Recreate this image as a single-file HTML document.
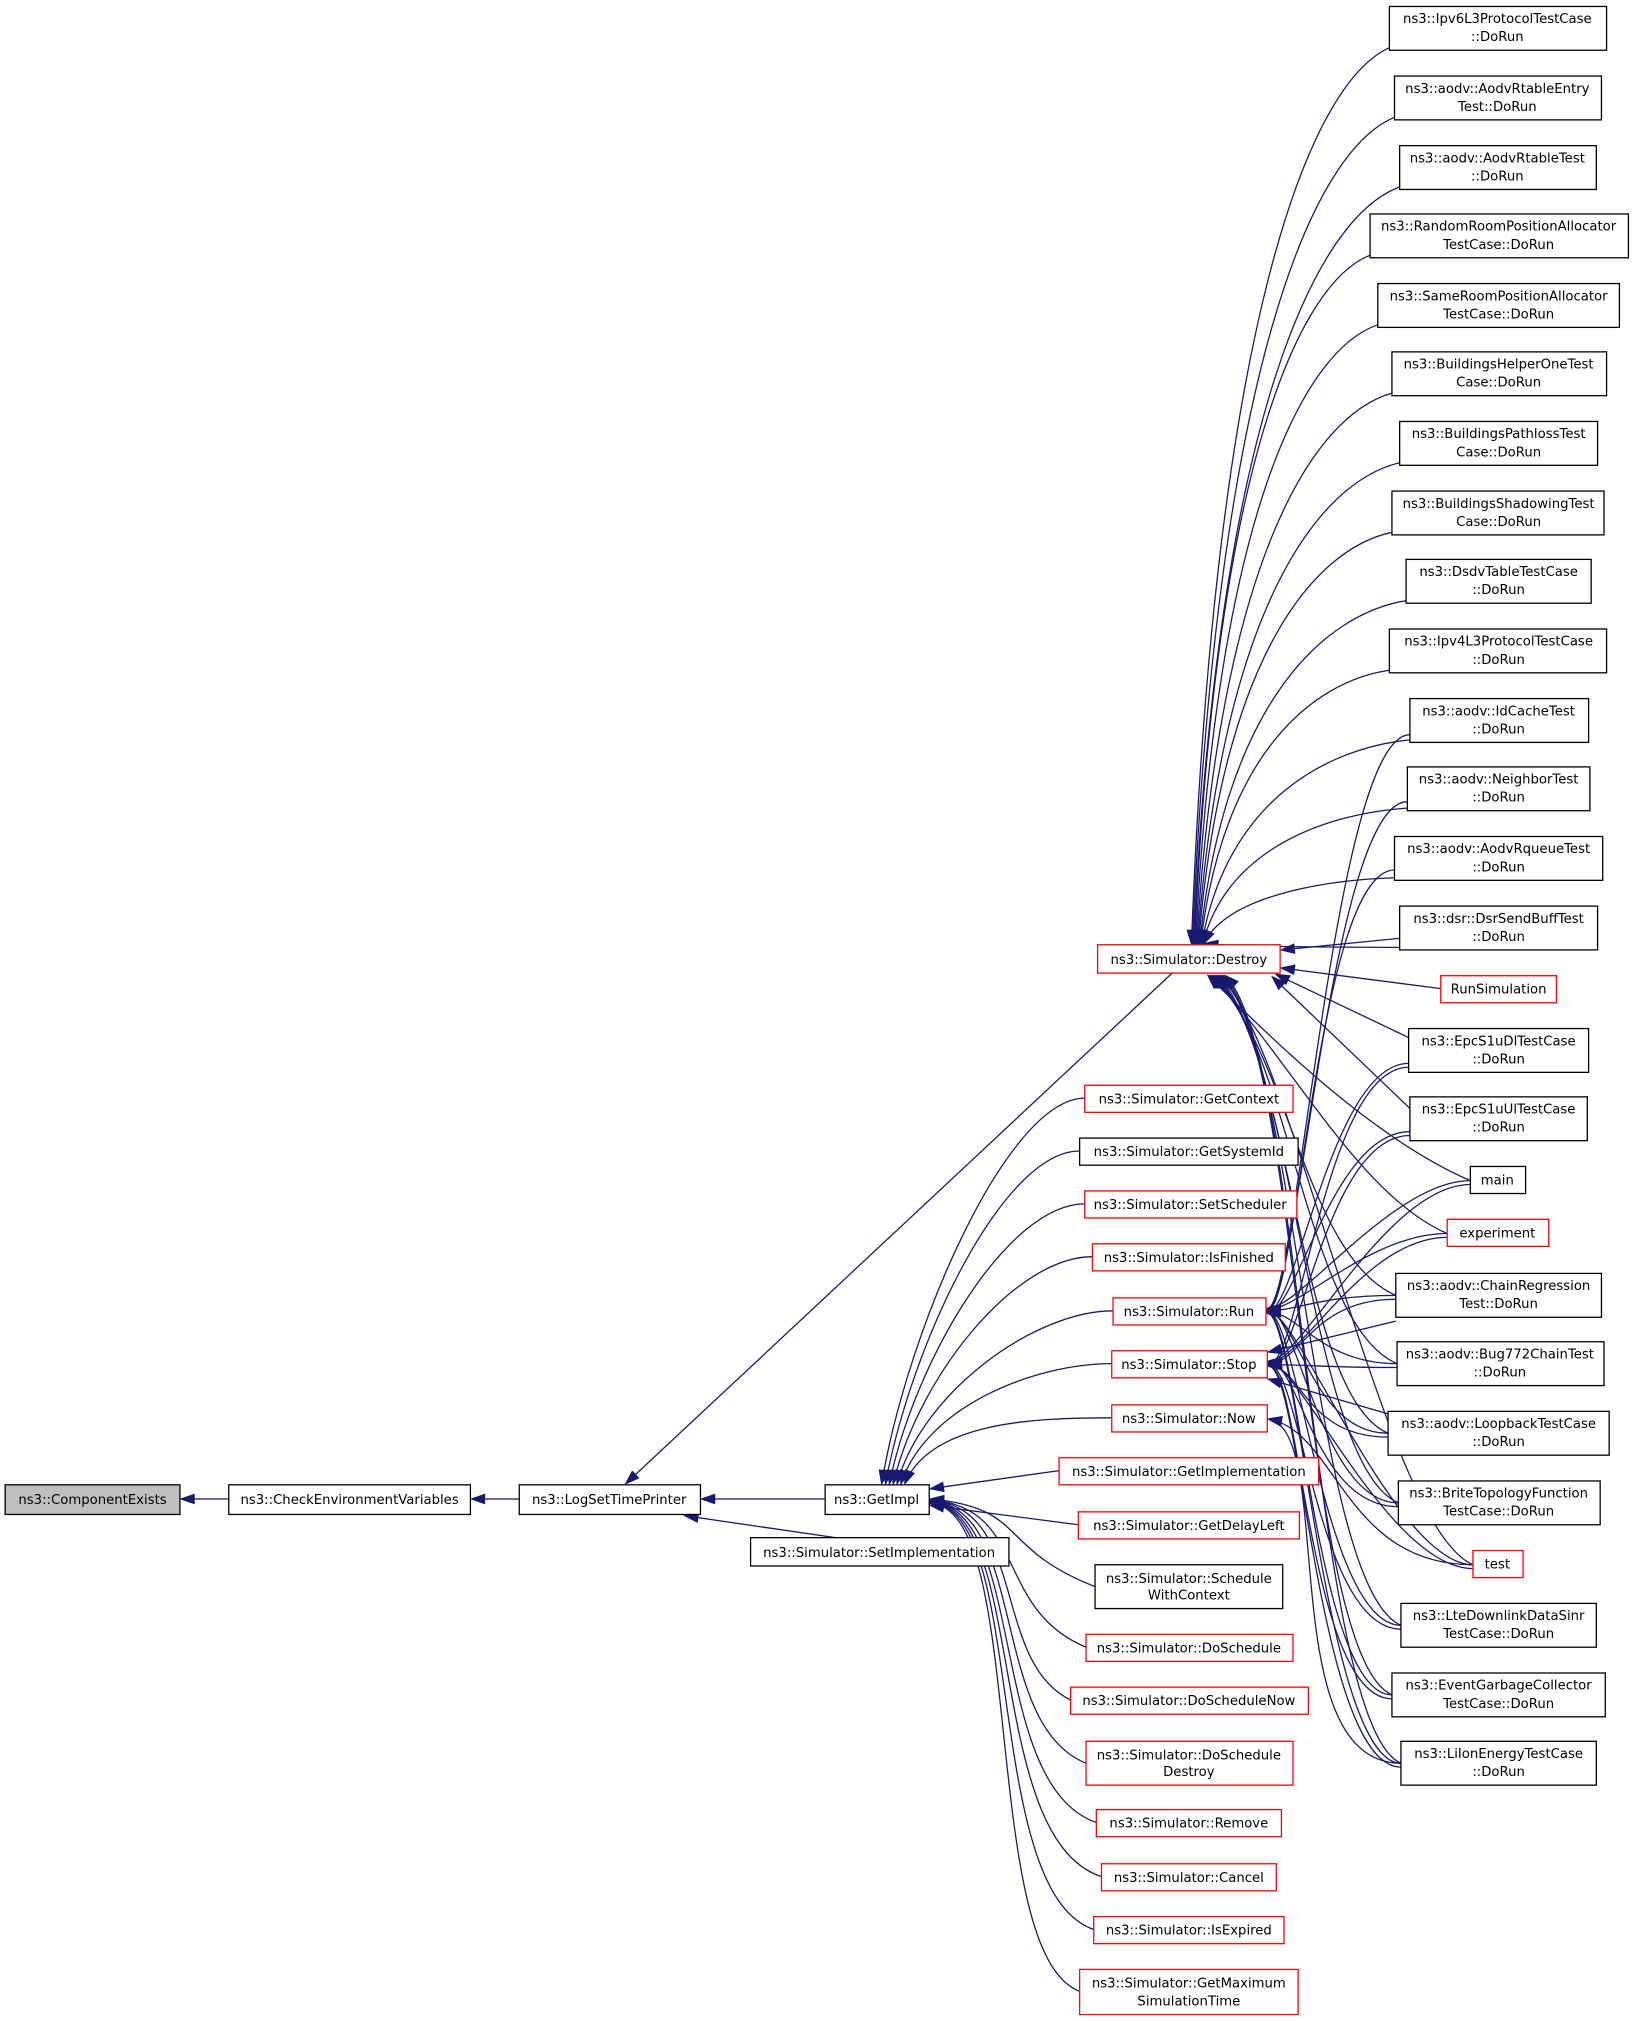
<!DOCTYPE html>
<html><head><meta charset="utf-8"><style>
html,body{margin:0;padding:0;background:#fff;}
svg{display:block;}
text{font-family:"DejaVu Sans","Liberation Sans",sans-serif;font-size:10.3px;fill:#000;text-anchor:middle;}
.b{fill:#fff;stroke:#000;stroke-width:1;}
.r{fill:#fff;stroke:#ff0000;stroke-width:1;}
.g{fill:#bfbfbf;stroke:#000;stroke-width:1;}
path.e{fill:none;stroke:#191970;stroke-width:1;}
polygon.h{fill:#191970;stroke:#191970;stroke-width:1;}
</style></head><body>
<svg id="s" width="1640" height="2021" viewBox="0 0 1276 1568" preserveAspectRatio="none" xmlns="http://www.w3.org/2000/svg">
<g id="edges"></g>
<!-- left chain -->
<rect class="g" x="4" y="1152" width="136" height="23"/><text x="72" y="1167">ns3::ComponentExists</text>
<rect class="b" x="178" y="1152" width="188" height="23"/><text x="272" y="1167">ns3::CheckEnvironmentVariables</text>
<rect class="b" x="404" y="1152" width="141" height="23"/><text x="474" y="1167">ns3::LogSetTimePrinter</text>
<rect class="b" x="642" y="1152" width="81" height="23"/><text x="682" y="1167">ns3::GetImpl</text>
<rect class="b" x="584" y="1193" width="201" height="22"/><text x="684" y="1208">ns3::Simulator::SetImplementation</text>
<!-- middle -->
<rect class="r" x="854" y="733" width="142" height="22"/><text x="925" y="748">ns3::Simulator::Destroy</text>
<rect class="r" x="844" y="842" width="162" height="21"/><text x="925" y="856">ns3::Simulator::GetContext</text>
<rect class="b" x="840" y="883" width="170" height="21"/><text x="925" y="897">ns3::Simulator::GetSystemId</text>
<rect class="r" x="844" y="924" width="165" height="21"/><text x="926" y="938">ns3::Simulator::SetScheduler</text>
<rect class="r" x="850" y="965" width="150" height="21"/><text x="925" y="979">ns3::Simulator::IsFinished</text>
<rect class="r" x="866" y="1007" width="119" height="21"/><text x="925" y="1021">ns3::Simulator::Run</text>
<rect class="r" x="865" y="1048" width="121" height="21"/><text x="925" y="1062">ns3::Simulator::Stop</text>
<rect class="r" x="865" y="1090" width="121" height="21"/><text x="925" y="1104">ns3::Simulator::Now</text>
<rect class="r" x="824" y="1131" width="202" height="21"/><text x="925" y="1145">ns3::Simulator::GetImplementation</text>
<rect class="r" x="839" y="1173" width="172" height="21"/><text x="925" y="1187">ns3::Simulator::GetDelayLeft</text>
<rect class="b" x="852" y="1214" width="146" height="34"/><text x="925" y="1228">ns3::Simulator::Schedule</text><text x="925" y="1241">WithContext</text>
<rect class="r" x="845" y="1268" width="161" height="21"/><text x="925" y="1282">ns3::Simulator::DoSchedule</text>
<rect class="r" x="833" y="1309" width="185" height="21"/><text x="925" y="1323">ns3::Simulator::DoScheduleNow</text>
<rect class="r" x="845" y="1351" width="161" height="34"/><text x="925" y="1365">ns3::Simulator::DoSchedule</text><text x="925" y="1378">Destroy</text>
<rect class="r" x="853" y="1404" width="144" height="21"/><text x="925" y="1418">ns3::Simulator::Remove</text>
<rect class="r" x="857" y="1446" width="136" height="21"/><text x="925" y="1460">ns3::Simulator::Cancel</text>
<rect class="r" x="851" y="1487" width="148" height="21"/><text x="925" y="1501">ns3::Simulator::IsExpired</text>
<rect class="r" x="840" y="1528" width="170" height="35"/><text x="925" y="1542">ns3::Simulator::GetMaximum</text><text x="925" y="1556">SimulationTime</text>
<!-- right -->
<g id="right">
<rect class="b" x="1081" y="5" width="169" height="34"/><text x="1165" y="18">ns3::Ipv6L3ProtocolTestCase</text><text x="1165" y="32">::DoRun</text>
<rect class="b" x="1085" y="59" width="161" height="34"/><text x="1165" y="72">ns3::aodv::AodvRtableEntry</text><text x="1165" y="86">Test::DoRun</text>
<rect class="b" x="1089" y="113" width="153" height="34"/><text x="1165" y="126">ns3::aodv::AodvRtableTest</text><text x="1165" y="140">::DoRun</text>
<rect class="b" x="1066" y="166" width="201" height="34"/><text x="1166" y="179">ns3::RandomRoomPositionAllocator</text><text x="1166" y="193">TestCase::DoRun</text>
<rect class="b" x="1072" y="220" width="188" height="34"/><text x="1166" y="233">ns3::SameRoomPositionAllocator</text><text x="1166" y="247">TestCase::DoRun</text>
<rect class="b" x="1083" y="273" width="167" height="34"/><text x="1166" y="286">ns3::BuildingsHelperOneTest</text><text x="1166" y="300">Case::DoRun</text>
<rect class="b" x="1089" y="327" width="154" height="34"/><text x="1166" y="340">ns3::BuildingsPathlossTest</text><text x="1166" y="354">Case::DoRun</text>
<rect class="b" x="1083" y="381" width="165" height="34"/><text x="1166" y="394">ns3::BuildingsShadowingTest</text><text x="1166" y="408">Case::DoRun</text>
<rect class="b" x="1094" y="434" width="144" height="34"/><text x="1166" y="447">ns3::DsdvTableTestCase</text><text x="1166" y="461">::DoRun</text>
<rect class="b" x="1081" y="488" width="169" height="34"/><text x="1166" y="501">ns3::Ipv4L3ProtocolTestCase</text><text x="1166" y="515">::DoRun</text>
<rect class="b" x="1097" y="542" width="139" height="34"/><text x="1166" y="555">ns3::aodv::IdCacheTest</text><text x="1166" y="569">::DoRun</text>
<rect class="b" x="1095" y="595" width="142" height="34"/><text x="1166" y="608">ns3::aodv::NeighborTest</text><text x="1166" y="622">::DoRun</text>
<rect class="b" x="1085" y="649" width="162" height="34"/><text x="1166" y="662">ns3::aodv::AodvRqueueTest</text><text x="1166" y="676">::DoRun</text>
<rect class="b" x="1089" y="703" width="154" height="34"/><text x="1166" y="716">ns3::dsr::DsrSendBuffTest</text><text x="1166" y="730">::DoRun</text>
<rect class="r" x="1121" y="757" width="90" height="21"/><text x="1166" y="771">RunSimulation</text>
<rect class="b" x="1096" y="798" width="140" height="34"/><text x="1166" y="811">ns3::EpcS1uDlTestCase</text><text x="1166" y="825">::DoRun</text>
<rect class="b" x="1097" y="851" width="138" height="34"/><text x="1166" y="864">ns3::EpcS1uUlTestCase</text><text x="1166" y="878">::DoRun</text>
<rect class="b" x="1144" y="905" width="43" height="21"/><text x="1165" y="919">main</text>
<rect class="r" x="1126" y="946" width="79" height="21"/><text x="1165" y="960">experiment</text>
<rect class="b" x="1086" y="988" width="160" height="34"/><text x="1166" y="1001">ns3::aodv::ChainRegression</text><text x="1166" y="1015">Test::DoRun</text>
<rect class="b" x="1087" y="1041" width="161" height="34"/><text x="1167" y="1054">ns3::aodv::Bug772ChainTest</text><text x="1167" y="1068">::DoRun</text>
<rect class="b" x="1080" y="1095" width="172" height="34"/><text x="1166" y="1108">ns3::aodv::LoopbackTestCase</text><text x="1166" y="1122">::DoRun</text>
<rect class="b" x="1088" y="1149" width="157" height="34"/><text x="1166" y="1162">ns3::BriteTopologyFunction</text><text x="1166" y="1176">TestCase::DoRun</text>
<rect class="r" x="1146" y="1203" width="39" height="21"/><text x="1165" y="1217">test</text>
<rect class="b" x="1090" y="1244" width="152" height="34"/><text x="1166" y="1257">ns3::LteDownlinkDataSinr</text><text x="1166" y="1271">TestCase::DoRun</text>
<rect class="b" x="1083" y="1298" width="166" height="34"/><text x="1166" y="1311">ns3::EventGarbageCollector</text><text x="1166" y="1325">TestCase::DoRun</text>
<rect class="b" x="1090" y="1351" width="152" height="34"/><text x="1166" y="1364">ns3::LiIonEnergyTestCase</text><text x="1166" y="1378">::DoRun</text>
</g>
</svg>
<script>
(function(){
var g=document.getElementById('edges'),ns='http://www.w3.org/2000/svg';
function H(tx,ty,cx,cy){var dx=tx-cx,dy=ty-cy,l=Math.sqrt(dx*dx+dy*dy)||1;dx/=l;dy/=l;
var bx=tx-dx*10,by=ty-dy*10,px=-dy*3.5,py=dx*3.5;
var p=document.createElementNS(ns,'polygon');p.setAttribute('class','h');
p.setAttribute('points',tx+','+ty+' '+(bx+px)+','+(by+py)+' '+(bx-px)+','+(by-py));g.appendChild(p);}
function P(d,tx,ty,cx,cy){var p=document.createElementNS(ns,'path');p.setAttribute('d',d);p.setAttribute('class','e');g.appendChild(p);H(tx,ty,cx,cy);}
function C(tx,ty,c1x,c1y,c2x,c2y,x,y){P('M'+tx+','+ty+' C'+c1x+','+c1y+' '+c2x+','+c2y+' '+x+','+y,tx,ty,c1x,c1y);}
function L(x1,y1,x2,y2){P('M'+x1+','+y1+' L'+x2+','+y2,x1,y1,x2,y2);}
// left chain
L(141,1163,178,1163);L(367,1163,404,1163);L(546,1163,642,1163);
L(487,1151,912,755);L(533,1176,650,1193);
// right boxes
var R=[[1081,22],[1085,76],[1089,130],[1066,183],[1072,237],[1083,290],[1089,344],[1083,398],[1094,451],[1081,505],[1097,559],[1095,612],[1085,666],[1089,720]];
R.forEach(function(b,i){var tx=927+i*0.8,ty=732,x=b[0],y=b[1]+15;
C(tx,ty,tx+(x-tx)*0.12,ty-(ty-y)*0.7,x-(x-tx)*0.4,y+(ty-y)*0.04,x,y);});
var lo=[[1121,767],[1096,815],[1097,868],[1144,916],[1126,957],[1086,1005],[1087,1058],[1080,1112],[1088,1166],[1146,1214],[1090,1261],[1083,1315],[1090,1368]];
L(997,737,1089,728);L(997,751,1121,767);L(993,756,1096,805);L(990,758,1097,860);
lo.slice(3).forEach(function(b,i){var tx=940+i*1.5,ty=757,x=b[0],y=b[1];
C(tx,ty,tx+60,ty+60,x-70,y-30,x,y);});
// Run / Stop
var rc=[[1097,570],[1095,622],[1085,675],[1096,825],[1097,878],[1144,916],[1126,957],[1086,1005],[1087,1058],[1080,1112],[1088,1166],[1146,1214],[1090,1261],[1083,1315],[1090,1368]];
rc.forEach(function(b,i){var x=b[0],y=b[1],ty=1017+(i%5-2);
C(986,ty,1010,1017,x-60,y,x,y);
if(i>2){var t2=1058+(i%5-2);C(987,t2,1012,1058,x-65,y+3,x,y+3);}});
L(987,1049,1086,1025);L(987,1070,1080,1097);
// Now
[[1146,1214],[1090,1368]].forEach(function(b){C(987,1101,1040,1110,b[0]-100,b[1],b[0],b[1]);});
// GetImpl callers
var up=[[844,852],[840,893],[844,934],[850,975],[866,1017],[865,1058],[865,1100]];
up.forEach(function(b,i){var tx=686+i*3,ty=1151;
C(tx,ty,tx+20,ty-120+i*12,b[0]-60,b[1],b[0],b[1]);});
L(724,1155,824,1141);L(724,1168,839,1183);
var dn=[[852,1231],[845,1278],[833,1319],[845,1368],[853,1414],[857,1456],[851,1497],[840,1545]];
dn.forEach(function(b,i){var tx=724,ty=1163+i*0.5;
C(tx,ty,800,1170,775-i*2,b[1]-30,b[0],b[1]);});
})();
</script>
</body></html>
